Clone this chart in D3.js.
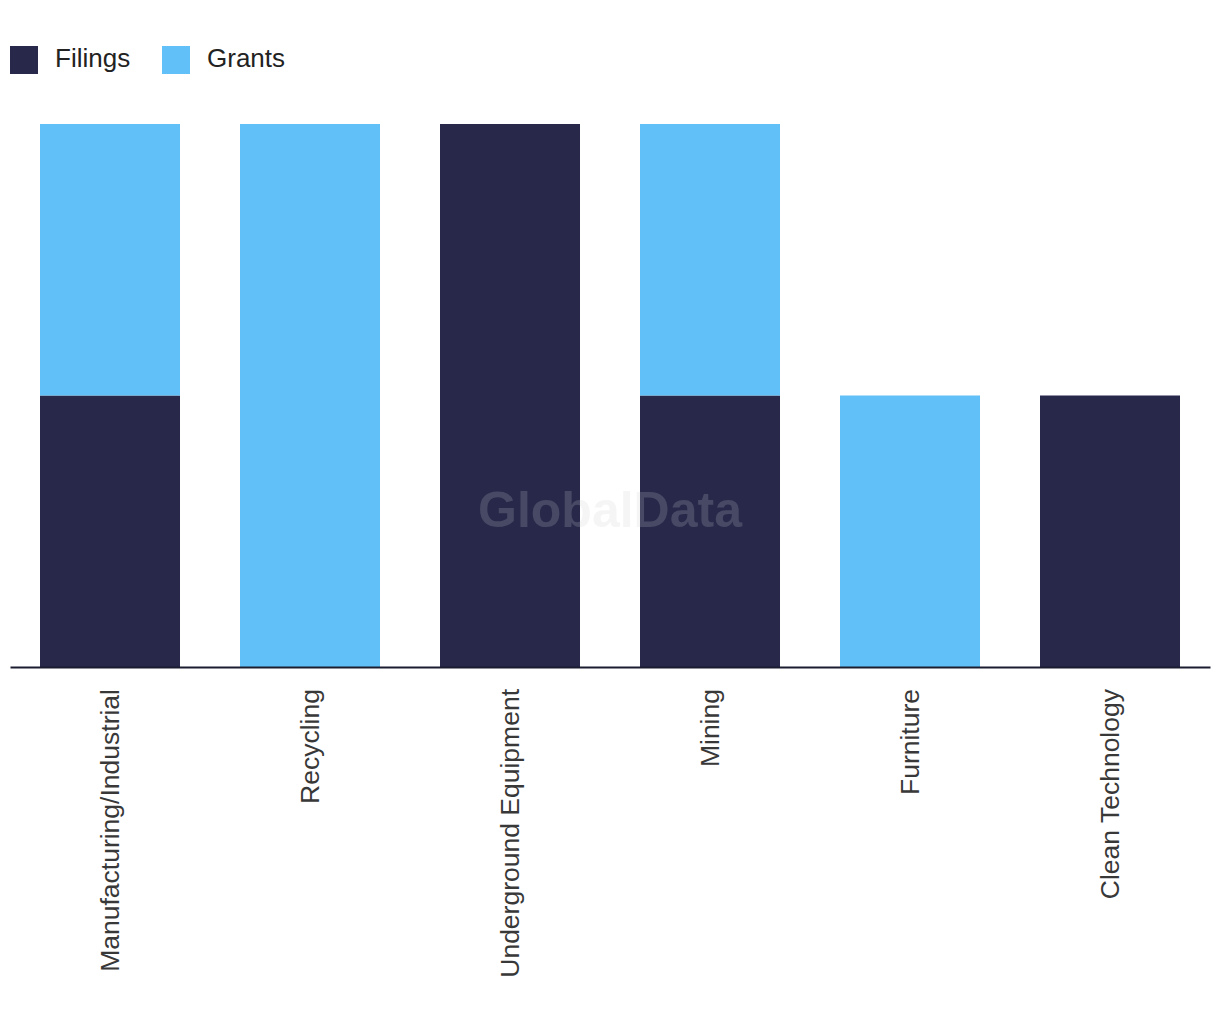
<!DOCTYPE html>
<html><head><meta charset="utf-8">
<script src="https://cdn.jsdelivr.net/npm/d3@7"></script>
<style>body{margin:0;background:#fff}svg{display:block}</style>
</head><body>
<svg id="c" width="1220" height="1020"></svg>
<script>
const categories = ["Manufacturing/Industrial","Recycling","Underground Equipment","Mining","Furniture","Clean Technology"];
const seriesNames = ["Filings","Grants"];
const filings = [1,0,2,1,0,1];
const grants  = [1,2,0,1,1,0];
const colors = ["#27284a","#61c0f8"];

const svg = d3.select("#c");
const rows = categories.map((c,i)=>({cat:c, Filings:filings[i], Grants:grants[i]}));
const stack = d3.stack().keys(seriesNames)(rows);

const x = d3.scaleBand().domain(categories).range([10,1210]).paddingInner(0.3).paddingOuter(0.15);
const y = d3.scaleLinear().domain([0,2]).range([667,124]);
const color = d3.scaleOrdinal().domain(seriesNames).range(colors);

svg.append("g").selectAll("g").data(stack).join("g")
  .attr("fill", d=>color(d.key))
  .selectAll("rect").data(d=>d).join("rect")
  .attr("x", d=>x(d.data.cat))
  .attr("width", x.bandwidth())
  .attr("y", d=>y(d[1]))
  .attr("height", d=>y(d[0])-y(d[1]));

// watermark
svg.append("text").attr("x",610).attr("y",527).attr("text-anchor","middle")
  .attr("font-family","Liberation Sans, Arial, sans-serif").attr("font-weight","bold")
  .attr("font-size",50).attr("fill","#cccccc").attr("fill-opacity",0.2).text("GlobalData");

// x axis
const xAxis = d3.axisBottom(x).tickSize(0).tickPadding(0);
const gx = svg.append("g").attr("transform","translate(0,667)").call(xAxis);
gx.select(".domain").attr("stroke","#1b1c30").attr("stroke-width",2);
gx.selectAll("text")
  .attr("font-family","Liberation Sans, Arial, sans-serif").attr("font-size",26.5).attr("fill","#383838")
  .attr("transform","rotate(-90)").attr("text-anchor","end")
  .attr("x",-22).attr("y",0).attr("dy","0.35em");

// legend
const lg = svg.append("g").attr("font-family","Liberation Sans, Arial, sans-serif");
const lx = [10,162];
seriesNames.forEach((s,i)=>{
  lg.append("rect").attr("x",lx[i]).attr("y",46).attr("width",28).attr("height",28).attr("fill",color(s));
  lg.append("text").attr("x",lx[i]+45).attr("y",67).attr("font-size",26).attr("fill","#222").text(s);
});
</script>
</body></html>
